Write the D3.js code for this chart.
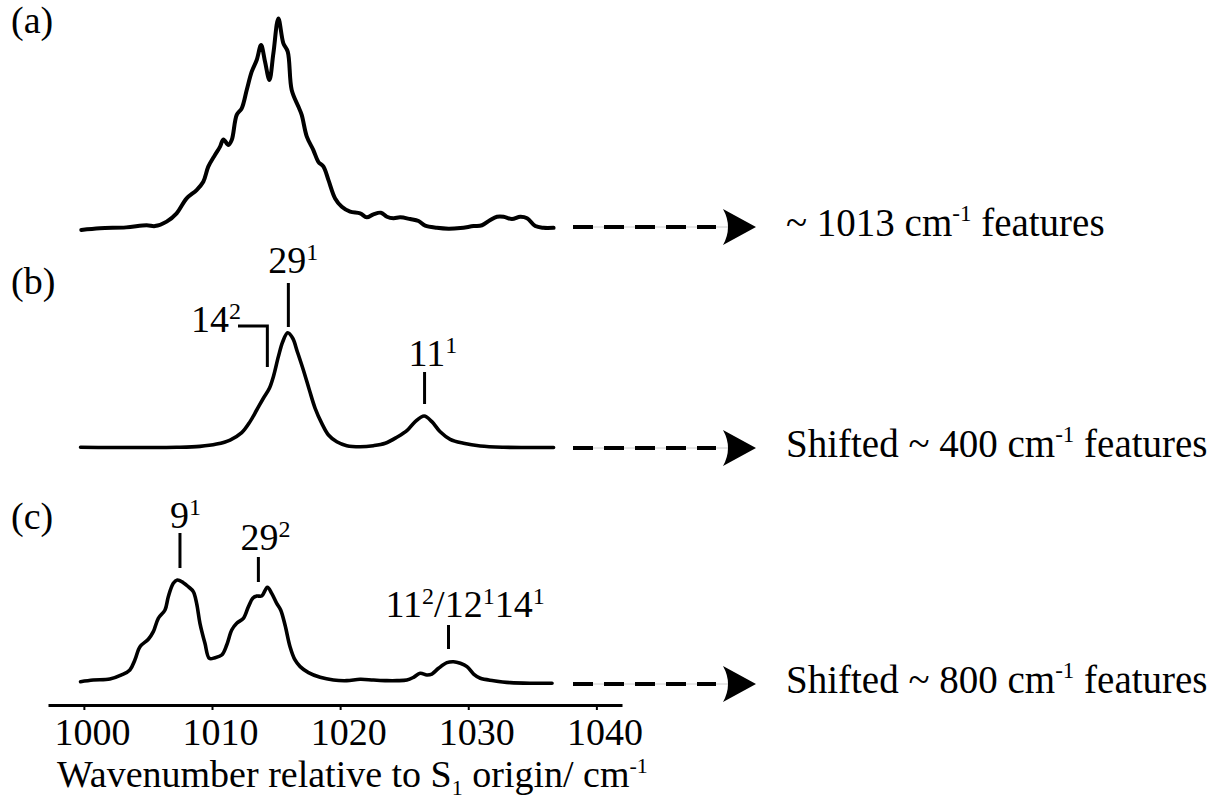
<!DOCTYPE html>
<html>
<head>
<meta charset="utf-8">
<script src="https://cdn.jsdelivr.net/npm/d3@7/dist/d3.min.js"></script>
<style>
  body { margin: 0; background: #fff; }
</style>
</head>
<body>
<div id="viz"></div>
<script>
var width = 1222, height = 801;

// spectra: [wavenumber, relative intensity]
var spectrumA = [
  [999.8,0.5],[1001.25,1.3],[1003.3,1.7],[1004.9,2.7],[1005.55,2.3],[1006.46,4.4],[1007.24,8.3],
  [1008.02,15.3],[1008.8,19.2],[1009.32,23.1],[1009.71,30.2],[1010.23,35.7],[1010.63,39.6],
  [1010.89,43.0],[1011.28,40.4],[1011.54,42.7],[1011.93,54.5],[1012.32,57.6],[1012.71,66.2],
  [1013.1,74.8],[1013.49,80.3],[1013.83,87.3],[1014.14,79.5],[1014.48,70.9],[1014.79,83.4],
  [1015.18,99.8],[1015.57,88.1],[1015.91,84.2],[1016.22,66.2],[1016.74,58.4],[1017.0,54.5],
  [1017.4,44.3],[1017.91,38.0],[1018.3,32.5],[1018.7,30.2],[1019.09,23.9],[1019.61,15.3],
  [1020.13,11.4],[1020.78,9.1],[1021.56,8.3],[1022.08,6.4],[1022.6,7.8],[1023.18,8.6],
  [1023.65,6.7],[1024.17,6.0],[1024.69,6.4],[1025.47,5.6],[1026.12,4.7],[1026.64,2.5],
  [1027.55,1.5],[1028.46,1.1],[1029.38,1.4],[1030.42,2.3],[1031.07,2.7],[1031.72,5.2],
  [1032.24,6.7],[1032.76,6.7],[1033.41,5.6],[1034.06,6.7],[1034.59,6.0],[1035.23,2.3],
  [1035.88,1.5],[1036.66,1.5]
];
var spectrumB = [
  [999.74,0.2],[1002.03,0],[1004.63,0],[1007.24,0.2],[1009.06,1.0],[1010.36,3.0],[1011.41,6.5],
  [1012.32,12.9],[1012.97,22.5],[1013.49,32.6],[1014.01,42.8],[1014.48,51.5],[1014.79,61.6],
  [1015.18,79.0],[1015.52,92.0],[1015.91,99.8],[1016.3,95.0],[1016.66,83.3],[1017.13,67.4],
  [1017.6,50.0],[1018.05,34.1],[1018.57,21.0],[1019.09,10.9],[1019.74,5.0],[1020.52,1.6],
  [1021.56,0.7],[1022.6,1.6],[1023.52,3.7],[1024.43,8.9],[1025.21,14.6],[1025.86,22.5],
  [1026.56,27.4],[1027.16,22.5],[1027.81,13.7],[1028.59,7.1],[1029.63,3.7],[1030.94,1.3],
  [1032.76,0.2],[1034.59,0],[1036.66,0]
];
var spectrumC = [
  [999.74,2.2],[1000.73,3.8],[1002.03,4.8],[1002.94,8.7],[1003.59,13.5],[1003.98,23.1],
  [1004.38,35.9],[1005.03,43.0],[1005.42,50.3],[1005.81,63.2],[1006.33,71.2],[1006.59,83.9],
  [1006.98,96.8],[1007.29,100],[1007.76,97.4],[1008.15,93.6],[1008.54,88.8],[1008.8,77.6],
  [1009.06,58.4],[1009.45,39.1],[1009.79,24.7],[1010.23,25.3],[1010.76,27.9],[1011.15,37.5],
  [1011.54,51.9],[1011.93,58.4],[1012.45,63.2],[1012.84,74.3],[1013.18,82.4],[1013.49,84.6],
  [1013.88,84.6],[1014.32,93.0],[1014.66,87.2],[1015.05,77.6],[1015.36,71.2],[1015.7,56.7],
  [1016.09,35.9],[1016.48,23.1],[1016.88,16.7],[1017.53,10.9],[1018.44,6.4],[1019.48,3.8],
  [1020.52,3.2],[1021.56,4.5],[1022.6,3.8],[1023.65,3.2],[1024.43,3.2],[1025.21,3.8],
  [1025.73,6.4],[1026.25,10.3],[1026.77,8.7],[1027.16,9.6],[1027.68,15.1],[1028.34,20.5],
  [1028.85,21.4],[1029.38,19.9],[1029.9,16.7],[1030.42,9.6],[1030.94,5.5],[1031.98,3.2],
  [1033.28,1.3],[1035.1,0.7],[1036.54,0.7]
];

var tickValues = [1000, 1010, 1020, 1030, 1040];
var panelNames = ["(a)", "(b)", "(c)"];
var panelNotes = [
  ["~ 1013 cm", "-1", " features"],
  ["Shifted ~ 400 cm", "-1", " features"],
  ["Shifted ~ 800 cm", "-1", " features"]
];
// peak assignments: wavenumber, [label, superscript] pieces
var peaksB = [
  {wn: 1015.96, parts: [["29", "1"]]},
  {wn: 1014.32, parts: [["14", "2"]]},
  {wn: 1026.59, parts: [["11", "1"]]}
];
var peaksC = [
  {wn: 1007.5, parts: [["9", "1"]]},
  {wn: 1013.62, parts: [["29", "2"]]},
  {wn: 1028.46, parts: [["11", "2"], ["/12", "1"], ["14", "1"]]}
];

// pick a serif face that is really installed
function hasFont(f) {
  var c = document.createElement("canvas").getContext("2d");
  var s = "Wavenumber 1013 features ilm";
  c.font = "40px monospace";
  var w0 = c.measureText(s).width;
  c.font = "40px '" + f + "', monospace";
  return c.measureText(s).width !== w0;
}
var fam = "serif";
["Liberation Serif", "Times New Roman", "Tinos", "DejaVu Serif", "Noto Serif", "FreeSerif"].some(function(f) {
  if (hasFont(f)) { fam = "'" + f + "', serif"; return true; }
  return false;
});

var svg = d3.select("#viz").append("svg")
  .attr("width", width)
  .attr("height", height)
  .style("font-family", fam);

var x = d3.scaleLinear().domain([997.2, 1042]).range([48, 622]);

// one y scale per stacked trace
var yA = d3.scaleLinear().domain([0, 100]).range([231, 18]);
var yB = d3.scaleLinear().domain([0, 100]).range([447.5, 332.5]);
var yC = d3.scaleLinear().domain([0, 100]).range([684, 580]);

function drawTrace(data, y, sw) {
  var line = d3.line()
    .x(function(d) { return x(d[0]); })
    .y(function(d) { return y(d[1]); })
    .curve(d3.curveCatmullRom.alpha(0.5));
  svg.append("path")
    .datum(data)
    .attr("d", line)
    .attr("fill", "none")
    .attr("stroke", "#000")
    .attr("stroke-width", sw)
    .attr("stroke-linejoin", "round")
    .attr("stroke-linecap", "round");
}
drawTrace(spectrumA, yA, 4);
drawTrace(spectrumB, yB, 3.6);
drawTrace(spectrumC, yC, 3.6);

// x axis
var xAxis = d3.axisBottom(x).tickValues(tickValues).tickSize(5).tickSizeOuter(0).tickFormat(d3.format("d"));
var gx = svg.append("g").attr("transform", "translate(0,705)").call(xAxis)
  .attr("font-family", null).attr("font-size", null);
gx.select(".domain").attr("stroke-width", 3.2).attr("stroke", "#000");
gx.selectAll(".tick line").attr("stroke-width", 2).attr("stroke", "#000");
gx.selectAll(".tick text")
  .attr("y", 40).attr("dy", null).attr("dx", 8)
  .attr("font-size", 38)
  .attr("fill", "#000");

var title = svg.append("text").attr("x", 57).attr("y", 787).attr("font-size", 38);
title.append("tspan").text("Wavenumber relative to S");
title.append("tspan").text("1").attr("font-size", 22).attr("dy", 8);
title.append("tspan").text(" origin/ cm").attr("dy", -8);
title.append("tspan").text("-1").attr("font-size", 22).attr("dy", -14);

// panel letters
var letterY = [33, 294, 529];
panelNames.forEach(function(t, i) {
  svg.append("text").attr("x", 11).attr("y", letterY[i]).attr("font-size", 38).text(t);
});

// dashed arrows and notes
var arrowY = [227, 448, 684];
arrowY.forEach(function(ay, i) {
  svg.append("line")
    .attr("x1", 573).attr("x2", 730).attr("y1", ay).attr("y2", ay)
    .attr("stroke", "#ccc").attr("stroke-width", 1);
  svg.append("line")
    .attr("x1", 573).attr("x2", 716).attr("y1", ay).attr("y2", ay)
    .attr("stroke", "#000").attr("stroke-width", 4)
    .attr("stroke-dasharray", "20,11");
  svg.append("path")
    .attr("d", "M756," + ay + " L723," + (ay - 18) + " Q733," + ay + " 723," + (ay + 18) + " Z")
    .attr("fill", "#000");
  var n = panelNotes[i];
  var t = svg.append("text").attr("x", 786).attr("y", ay + 9).attr("font-size", 39);
  t.append("tspan").text(n[0]);
  t.append("tspan").text(n[1]).attr("font-size", 23).attr("dy", -15);
  t.append("tspan").text(n[2]).attr("dy", 15);
});

function supLabel(xs, ys, parts, size) {
  var t = svg.append("text").attr("x", xs).attr("y", ys).attr("font-size", size);
  parts.forEach(function(p, k) {
    t.append("tspan").text(p[0]).attr("dy", k === 0 ? 0 : 13);
    t.append("tspan").text(p[1]).attr("dy", -13).attr("font-size", Math.round(size * 0.62));
  });
  return t;
}
function vline(xp, y1, y2) {
  svg.append("line").attr("x1", xp).attr("x2", xp).attr("y1", y1).attr("y2", y2)
    .attr("stroke", "#000").attr("stroke-width", 3);
}

// (b) assignments
vline(x(peaksB[0].wn), 283, 327);
supLabel(x(peaksB[0].wn) - 20, 273, peaksB[0].parts, 38);
svg.append("path")
  .attr("d", "M238,326 H" + x(peaksB[1].wn) + " V367")
  .attr("fill", "none").attr("stroke", "#000").attr("stroke-width", 3);
supLabel(191, 332, peaksB[1].parts, 38);
vline(x(peaksB[2].wn), 372, 404);
supLabel(x(peaksB[2].wn) - 16, 366, peaksB[2].parts, 38);

// (c) assignments
var cLayout = [
  {dx: -10, ty: 528, y1: 533, y2: 568},
  {dx: -18, ty: 550, y1: 557, y2: 582},
  {dx: -63, ty: 617, y1: 625, y2: 649}
];
peaksC.forEach(function(p, i) {
  var l = cLayout[i];
  vline(x(p.wn), l.y1, l.y2);
  supLabel(x(p.wn) + l.dx, l.ty, p.parts, 38);
});
</script>
</body>
</html>
